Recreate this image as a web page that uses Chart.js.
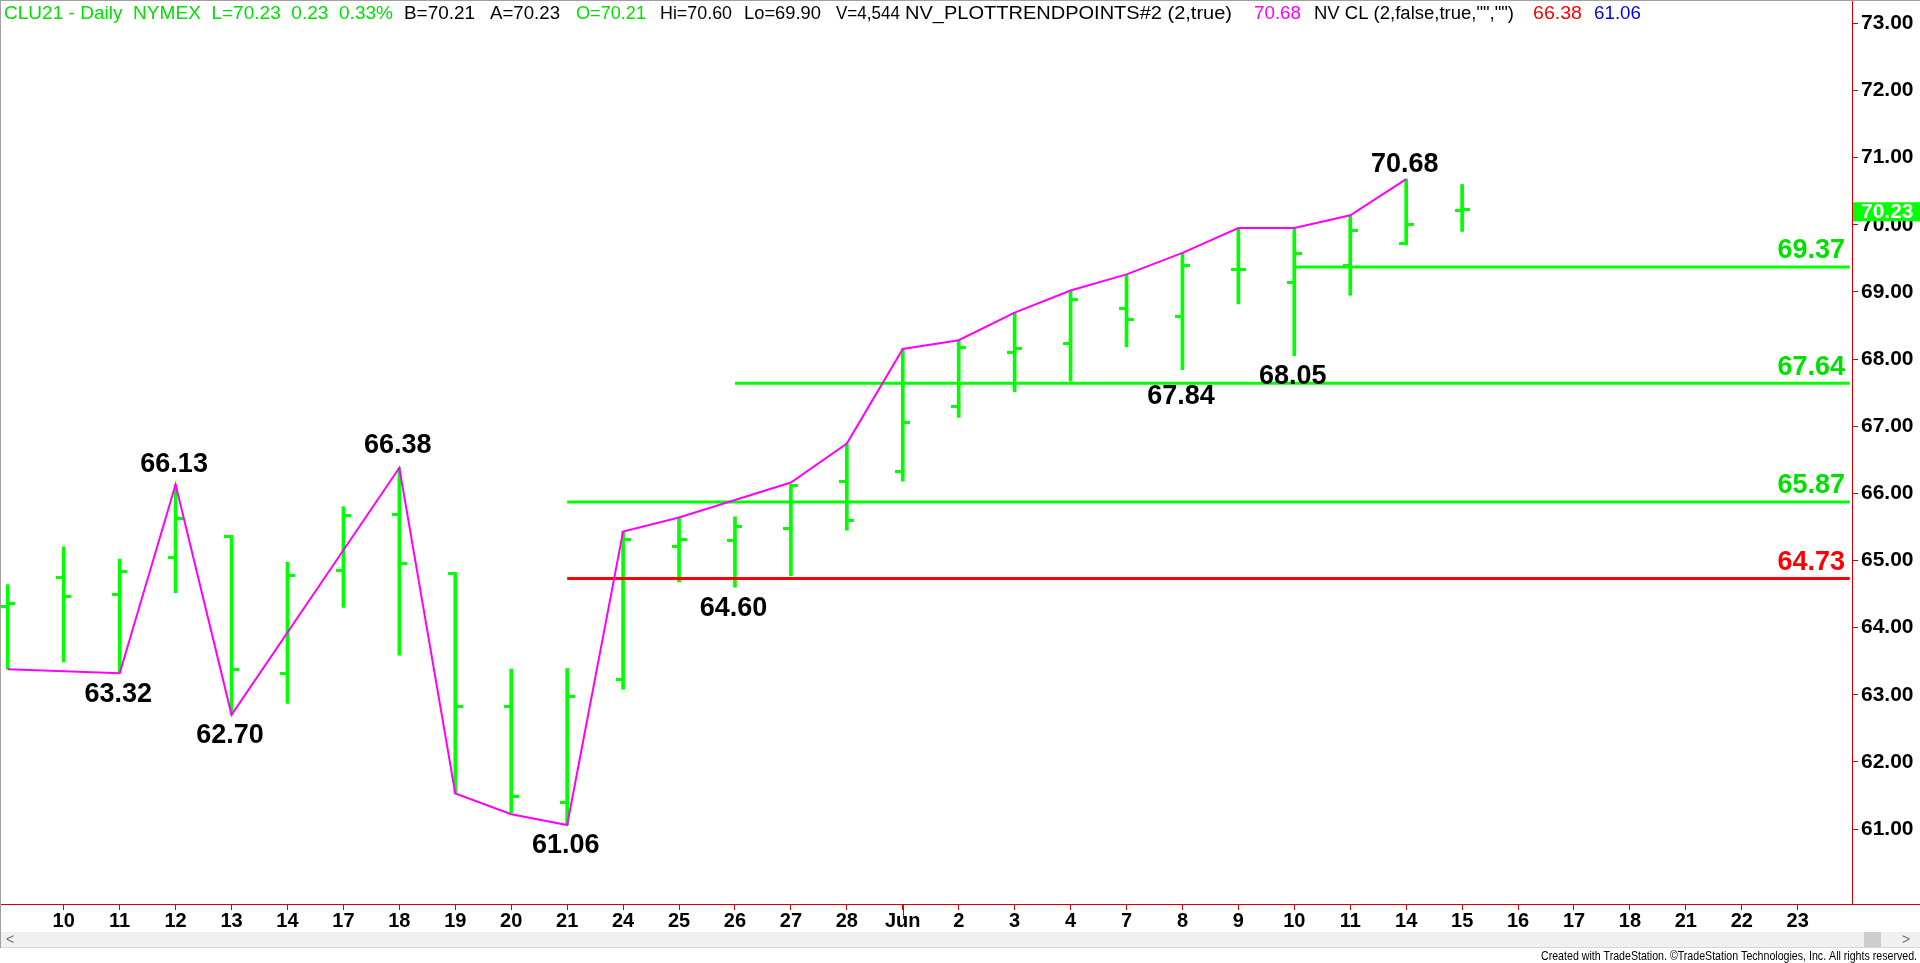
<!DOCTYPE html>
<html><head><meta charset="utf-8">
<script src="https://cdn.jsdelivr.net/npm/chart.js@4.4.1/dist/chart.umd.min.js"></script>
<style>html,body{margin:0;padding:0;background:#fff;overflow:hidden}#wrap{position:relative;width:1920px;height:963px}</style>
</head><body><div id="wrap"><canvas id="c" width="1920" height="963"></canvas></div>
<script>
// ---------- DATA ----------
const dateLabels = ["7","10","11","12","13","14","17","18","19","20","21","24","25","26","27","28","Jun","2","3","4","7","8","9","10","11","14","15","16","17","18","21","22","23"];
const openVals  = [64.31,64.74,64.50,65.05,65.36,63.32,64.85,65.68,64.80,62.83,61.40,63.22,65.21,65.29,65.48,66.18,66.32,67.29,68.10,68.23,68.75,68.63,69.33,69.14,69.39,69.72,70.21];
const highVals  = [64.64,65.20,65.02,66.13,65.36,64.97,65.80,66.38,64.80,63.38,63.39,65.43,65.64,65.65,66.12,66.74,68.15,68.28,68.69,69.02,69.26,69.58,69.95,69.95,70.14,70.68,70.60];
const lowVals   = [63.38,63.49,63.32,64.52,62.70,62.87,64.30,63.59,61.53,61.24,61.06,63.08,64.68,64.60,64.77,65.45,66.18,67.13,67.51,67.67,68.18,67.84,68.82,68.05,68.95,69.72,69.90];
const closeVals = [64.36,64.46,64.84,65.63,63.38,64.78,65.67,64.96,62.83,61.49,62.98,65.31,65.31,65.50,66.12,65.59,67.05,68.17,68.15,68.88,68.59,69.39,69.33,69.57,69.91,70.00,70.23];
const trendVals = [63.38,null,63.32,66.13,62.70,null,null,66.38,61.53,61.22,61.06,65.43,65.64,65.90,66.16,66.74,68.15,68.28,68.69,69.02,69.26,69.58,69.95,69.95,70.14,70.68];
const levelValues = [69.37,67.64,65.87,64.73];
const levelStartIdx = [23,13,10,10];
const pivotIdx  = [3,2,4,7,10,13,21,23,25];
const pivotVals = [66.13,63.32,62.70,66.38,61.06,64.60,67.84,68.05,70.68];
const pivotSide = ["above","below","below","above","below","below","below","below","above"];
const yTickValues = [61,62,63,64,65,66,67,68,69,70,71,72,73];
const lastPrice = 70.23;
const headerParts = [
  ["CLU21 - Daily  NYMEX  L=70.23  0.23  0.33%","g"],["B=70.21","k"],["A=70.23","k"],["O=70.21","g"],
  ["Hi=70.60","k"],["Lo=69.90","k"],["V=4,544","k"],["NV_PLOTTRENDPOINTS#2 (2,true)","k"],
  ["70.68","m"],["NV CL (2,false,true,\"\",\"\")","k"],["66.38","r"],["61.06","b"]];

// ---------- STYLE / LAYOUT ----------
const GREEN = '#00ff00', RED = '#ff0000', AXIS = '#d40000', MAG = '#ff00ff';
const FONT = "'Liberation Sans', Arial, sans-serif";
const X_MIN = -0.1216, X_MAX = 32.97, Y_MIN = 59.883, Y_MAX = 73.332;
const headerX = [4,404,490,576,660,744,836,905,1254,1314,1533,1594];
const headerW = [389,71,70,70,72,77,64,327,47,200,49,47];
const headerColors = {g:'#00e000',k:'#000000',m:MAG,r:RED,b:'#0000ff'};
const pivotNudge = [0,0,0,-2,0,0,6,0,5];

function tickImg(side){
  const c=document.createElement('canvas'); c.width=15; c.height=3;
  const g=c.getContext('2d'); g.fillStyle=GREEN;
  if(side==='L') g.fillRect(0,0,9,3); else g.fillRect(6,0,9,3);
  return c;
}
const openImg = tickImg('L'), closeImg = tickImg('R');

const datasets = [];
datasets.push({type:'bar', data: highVals.map((h,i)=>({x:i,y:[lowVals[i],h]})), backgroundColor:GREEN, borderWidth:0, barThickness:3, grouped:false, order:5});
datasets.push({type:'line', data: openVals.map((v,i)=>({x:i,y:v})), showLine:false, pointStyle:openImg, pointRadius:7, order:4});
datasets.push({type:'line', data: closeVals.map((v,i)=>({x:i,y:v})), showLine:false, pointStyle:closeImg, pointRadius:7, order:4});
levelValues.forEach((v,k)=>{
  datasets.push({type:'line', data:[{x:levelStartIdx[k],y:v},{x:X_MAX-0.04,y:v}], borderColor: k===3?RED:GREEN, borderWidth:3, pointRadius:0, order:3, borderCapStyle:'butt'});
});
datasets.push({type:'line', data: trendVals.map((v,i)=>({x:i,y:v})), spanGaps:true, borderColor:MAG, borderWidth:2, pointRadius:0, tension:0, order:1});

function fitText(ctx, text, x, y, w){
  const m = ctx.measureText(text).width;
  ctx.save(); ctx.translate(x,y); ctx.scale(w/m,1); ctx.fillText(text,0,0); ctx.restore();
}

const overlay = {
  id:'overlay',
  beforeDraw(chart){
    const ctx=chart.ctx; ctx.save(); ctx.fillStyle='#fff'; ctx.fillRect(0,0,chart.width,chart.height); ctx.restore();
  },
  afterDraw(chart){
    const ctx=chart.ctx, xs=chart.scales.x, ys=chart.scales.y, ca=chart.chartArea;
    ctx.save();
    // header
    ctx.font = "18px "+FONT; ctx.textBaseline='middle'; ctx.textAlign='left';
    headerParts.forEach((p,i)=>{ ctx.fillStyle=headerColors[p[1]]; fitText(ctx, p[0], headerX[i], 14, headerW[i]); });
    // pivot labels
    ctx.font = "bold 27px "+FONT; ctx.fillStyle='#000'; ctx.textAlign='center';
    pivotIdx.forEach((ix,k)=>{
      const px = xs.getPixelForValue(ix)-1.5, py = ys.getPixelForValue(pivotVals[k]);
      const dy = pivotSide[k]==='above' ? -20 + pivotNudge[k] : 21 + pivotNudge[k];
      ctx.fillText(pivotVals[k].toFixed(2), px, py+dy);
    });
    // level labels
    ctx.textAlign='right';
    levelValues.forEach((v,k)=>{
      ctx.fillStyle = k===3?RED:'#00e000';
      ctx.fillText(v.toFixed(2), ca.right-7, ys.getPixelForValue(v)-16);
    });
    // x axis line extension to the right edge
    ctx.strokeStyle=AXIS; ctx.lineWidth=1;
    ctx.beginPath(); ctx.moveTo(0, ca.bottom+0.5); ctx.lineTo(chart.width, ca.bottom+0.5); ctx.stroke();
    // Jun long tick
    const jx = Math.round(xs.getPixelForValue(dateLabels.indexOf('Jun')))+0.5;
    ctx.beginPath(); ctx.moveTo(jx, ca.bottom); ctx.lineTo(jx, ca.bottom+15); ctx.stroke();
    // last price marker
    const lp = ys.getPixelForValue(lastPrice);
    ctx.fillStyle=GREEN; ctx.fillRect(ca.right+1, lp-7, chart.width-ca.right, 19);
    ctx.fillStyle='#fff'; ctx.font="bold 21px "+FONT; ctx.textAlign='left'; ctx.textBaseline='middle';
    ctx.fillText(lastPrice.toFixed(2), ca.right+9, lp+3);
    // scrollbar
    ctx.fillStyle='#f0f0f0'; ctx.fillRect(1,932,chart.width-1,15);
    ctx.fillStyle='#cdcdcd'; ctx.fillRect(1864,932,17,15);
    ctx.fillStyle='#707070'; ctx.font="14px "+FONT; ctx.textAlign='center';
    ctx.fillText('<',10,940); ctx.fillText('>',1906,940);
    ctx.fillStyle='#d8d8d8'; ctx.fillRect(0,947,chart.width,1);
    // footer
    ctx.fillStyle='#000'; ctx.font="13px "+FONT; ctx.textAlign='right';
    ctx.fillText('Created with TradeStation. \u00A9TradeStation Technologies, Inc. All rights reserved.', 1917, 956, 376);
    // window border
    ctx.fillStyle='#a0a0a0'; ctx.fillRect(0,0,1,948); ctx.fillRect(0,0,chart.width,1);
    ctx.restore();
  }
};

new Chart(document.getElementById('c'), {
  type:'line',
  data:{datasets},
  options:{
    responsive:false, animation:false, events:[],
    layout:{autoPadding:false, padding:{left:1,top:1,right:0,bottom:0}},
    plugins:{legend:{display:false}, tooltip:{enabled:false}},
    scales:{
      x:{type:'linear', min:X_MIN, max:X_MAX, offset:false,
        afterBuildTicks(s){ s.ticks = dateLabels.map((l,i)=>({value:i})).slice(1); },
        afterFit(s){ s.height = 59; s.paddingLeft = 0; s.paddingRight = 0; },
        ticks:{autoSkip:false, maxRotation:0, padding:-1, color:'#000', font:{family:FONT, size:20, weight:'bold'},
          callback:(v)=>dateLabels[v]},
        grid:{drawOnChartArea:false, drawTicks:true, tickLength:6, color:AXIS, offset:false},
        border:{display:true, color:AXIS, width:1}},
      y:{type:'linear', position:'right', min:Y_MIN, max:Y_MAX,
        afterBuildTicks(s){ s.ticks = yTickValues.map(v=>({value:v})); },
        afterFit(s){ s.width = 68; s.paddingTop = 0; s.paddingBottom = 0; },
        ticks:{padding:3, color:'#000', font:{family:FONT, size:21, weight:'bold'}, callback:(v)=>Number(v).toFixed(2)},
        grid:{drawOnChartArea:false, drawTicks:true, tickLength:6, color:AXIS},
        border:{display:true, color:AXIS, width:1}}
    }
  },
  plugins:[overlay]
});
</script></body></html>
